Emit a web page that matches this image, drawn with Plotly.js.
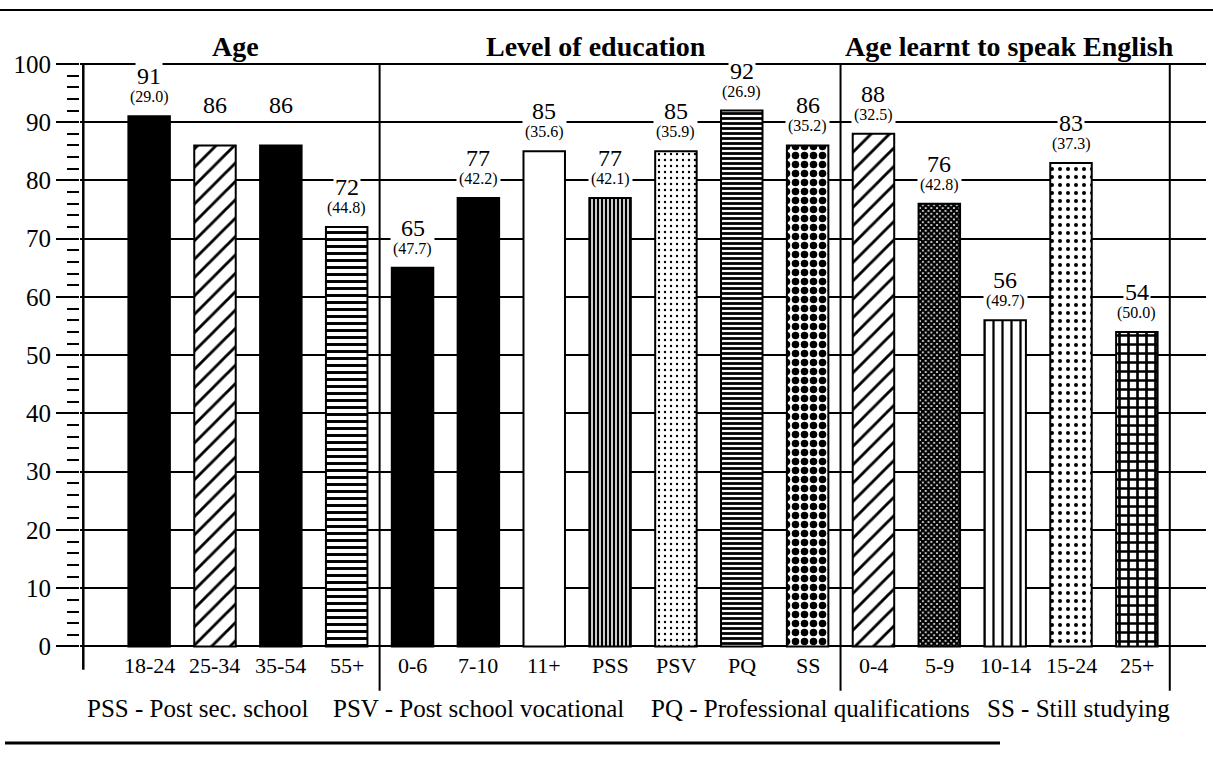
<!DOCTYPE html>
<html><head><meta charset="utf-8">
<script src="https://cdn.plot.ly/plotly-3.0.1.min.js"></script>
<style>html,body{margin:0;padding:0;background:#fff}#chart{width:1213px;height:761px}</style>
</head><body><div id="chart"></div>
<script>
// ---- data ----
const ageCats = ['18-24', '25-34', '35-54', '55+'];
const ageVals = [91, 86, 86, 72];
const ageSE   = ['29.0', null, null, '44.8'];

const eduCats = ['0-6', '7-10', '11+', 'PSS', 'PSV', 'PQ', 'SS'];
const eduVals = [65, 77, 85, 77, 85, 92, 86];
const eduSE   = ['47.7', '42.2', '35.6', '42.1', '35.9', '26.9', '35.2'];

const engCats = ['0-4', '5-9', '10-14', '15-24', '25+'];
const engVals = [88, 76, 56, 83, 54];
const engSE   = ['32.5', '42.8', '49.7', '37.3', '50.0'];

const groupTitles = ['Age', 'Level of education', 'Age learnt to speak English'];
const footnotes = ['PSS - Post sec. school', 'PSV - Post school vocational',
                   'PQ - Professional qualifications', 'SS - Still studying'];
const yTicks = [0, 10, 20, 30, 40, 50, 60, 70, 80, 90, 100];

// ---- styles ----
const solidBar = [true, false, true, false, true, true, false, false, false, false, false, false, false, false, false, false];
const patShape = ['', '/', '', '-', '', '', '', '|', '.', '-', '.', '/', 'x', '|', '.', '+'];
const patSize  = [8, 13, 8, 7, 8, 8, 8, 4, 6, 5, 9, 13, 4, 9, 8, 9];
const patSolid = [0.3, 0.22, 0.3, 0.42, 0.3, 0.3, 0.3, 0.6, 0.12, 0.55, 0.55, 0.22, 0.8, 0.25, 0.2, 0.5];
const titleShift = [-12, -14, 4];

const FONT = 'Liberation Serif, Times New Roman, serif';
const W = 1213, H = 761;
const M = {l: 80, r: 7, t: 61, b: 65};
const px2x = px => (px - M.l) / (W - M.l - M.r);
const px2y = py => (H - M.b - py) / (H - M.t - M.b);

const groups = [ageCats, eduCats, engCats];
const categories = ageCats.concat(eduCats, engCats);
const values = ageVals.concat(eduVals, engVals);
const seLabels = ageSE.concat(eduSE, engSE);

const idxSolid = categories.map((c, i) => i).filter(i => solidBar[i]);
const idxPat = categories.map((c, i) => i).filter(i => !solidBar[i]);

const traceSolid = {
  type: 'bar',
  x: idxSolid.map(i => categories[i]),
  y: idxSolid.map(i => values[i]),
  width: 0.63,
  marker: {color: '#000', line: {color: '#000', width: 2}},
  hoverinfo: 'skip'
};
const tracePat = {
  type: 'bar',
  x: idxPat.map(i => categories[i]),
  y: idxPat.map(i => values[i]),
  width: 0.63,
  marker: {
    color: '#fff',
    line: {color: '#000', width: 2},
    pattern: {shape: idxPat.map(i => patShape[i]), size: idxPat.map(i => patSize[i]),
              solidity: idxPat.map(i => patSolid[i]),
              fgcolor: '#000', bgcolor: '#fff', fillmode: 'replace'}
  },
  hoverinfo: 'skip'
};

const annotations = [];
categories.forEach((c, i) => {
  annotations.push({x: c, y: values[i], xref: 'x', yref: 'y', text: String(values[i]),
    showarrow: false, yshift: 40, yanchor: 'middle', xanchor: 'center', bgcolor: '#fff', borderpad: 1,
    font: {family: FONT, size: 24, color: '#000'}});
  if (seLabels[i]) {
    annotations.push({x: c, y: values[i], xref: 'x', yref: 'y', text: '(' + seLabels[i] + ')',
      showarrow: false, yshift: 19, yanchor: 'middle', xanchor: 'center', bgcolor: '#fff', borderpad: 2,
      font: {family: FONT, size: 16, color: '#000'}});
  }
  annotations.push({x: c, y: -3.2, xref: 'x', yref: 'y', text: c, showarrow: false,
    yanchor: 'middle', xanchor: 'center', font: {family: FONT, size: 22, color: '#000'}});
});

// group titles and separators
const shapes = [];
let start = 0;
groups.forEach((g, k) => {
  const mid = start + (g.length - 1) / 2;
  annotations.push({x: mid, y: px2y(46), xref: 'x', yref: 'paper', text: '<b>' + groupTitles[k] + '</b>',
    showarrow: false, yanchor: 'middle', xanchor: 'center', xshift: titleShift[k],
    font: {family: FONT, size: 28, color: '#000'}});
  const end = start + g.length - 0.5;
  shapes.push({type: 'line', xref: 'x', yref: 'y', x0: end, x1: end, y0: -7.6, y1: 100,
    line: {color: '#000', width: 2}});
  start += g.length;
});
// y-axis line
shapes.push({type: 'line', xref: 'x', yref: 'y', x0: -1, x1: -1, y0: -4, y1: 100,
  line: {color: '#000', width: 2.5}});
// top and bottom rules
shapes.push({type: 'line', xref: 'paper', yref: 'paper', x0: px2x(0), x1: px2x(1213), y0: px2y(10), y1: px2y(10),
  line: {color: '#000', width: 2}});
shapes.push({type: 'line', xref: 'paper', yref: 'paper', x0: px2x(5), x1: px2x(1000), y0: px2y(743), y1: px2y(743),
  line: {color: '#000', width: 3}});

// footnotes
const footX = [198, 478, 810, 1078];
footnotes.forEach((t, i) => {
  annotations.push({x: px2x(footX[i]), y: px2y(708), xref: 'paper', yref: 'paper', text: t,
    showarrow: false, yanchor: 'middle', xanchor: 'center', font: {family: FONT, size: 25, color: '#000'}});
});

const minorVals = [];
for (let v = 2; v < 100; v += 2) if (v % 10 !== 0) minorVals.push(v);

const layout = {
  width: W, height: H,
  margin: M,
  paper_bgcolor: '#fff', plot_bgcolor: '#fff',
  showlegend: false,
  hovermode: false,
  barmode: 'overlay',
  xaxis: {type: 'category', categoryarray: categories, categoryorder: 'array',
    range: [-1.05, 16.05], showticklabels: false, showgrid: false, zeroline: false,
    showline: false, ticks: '', fixedrange: true},
  yaxis: {range: [-8.5, 100.5], tickmode: 'array', tickvals: yTicks,
    ticks: 'outside', ticklen: 23, tickwidth: 2, tickcolor: '#000',
    showgrid: true, gridcolor: '#000', gridwidth: 2, zeroline: false, showline: false,
    tickfont: {family: FONT, size: 25, color: '#000'},
    minor: {tickvals: minorVals, ticks: 'outside', ticklen: 12, tickwidth: 2, tickcolor: '#000', showgrid: false},
    fixedrange: true},
  annotations: annotations,
  shapes: shapes
};

Plotly.newPlot('chart', [traceSolid, tracePat], layout, {staticPlot: true, displayModeBar: false});
</script>
</body></html>
